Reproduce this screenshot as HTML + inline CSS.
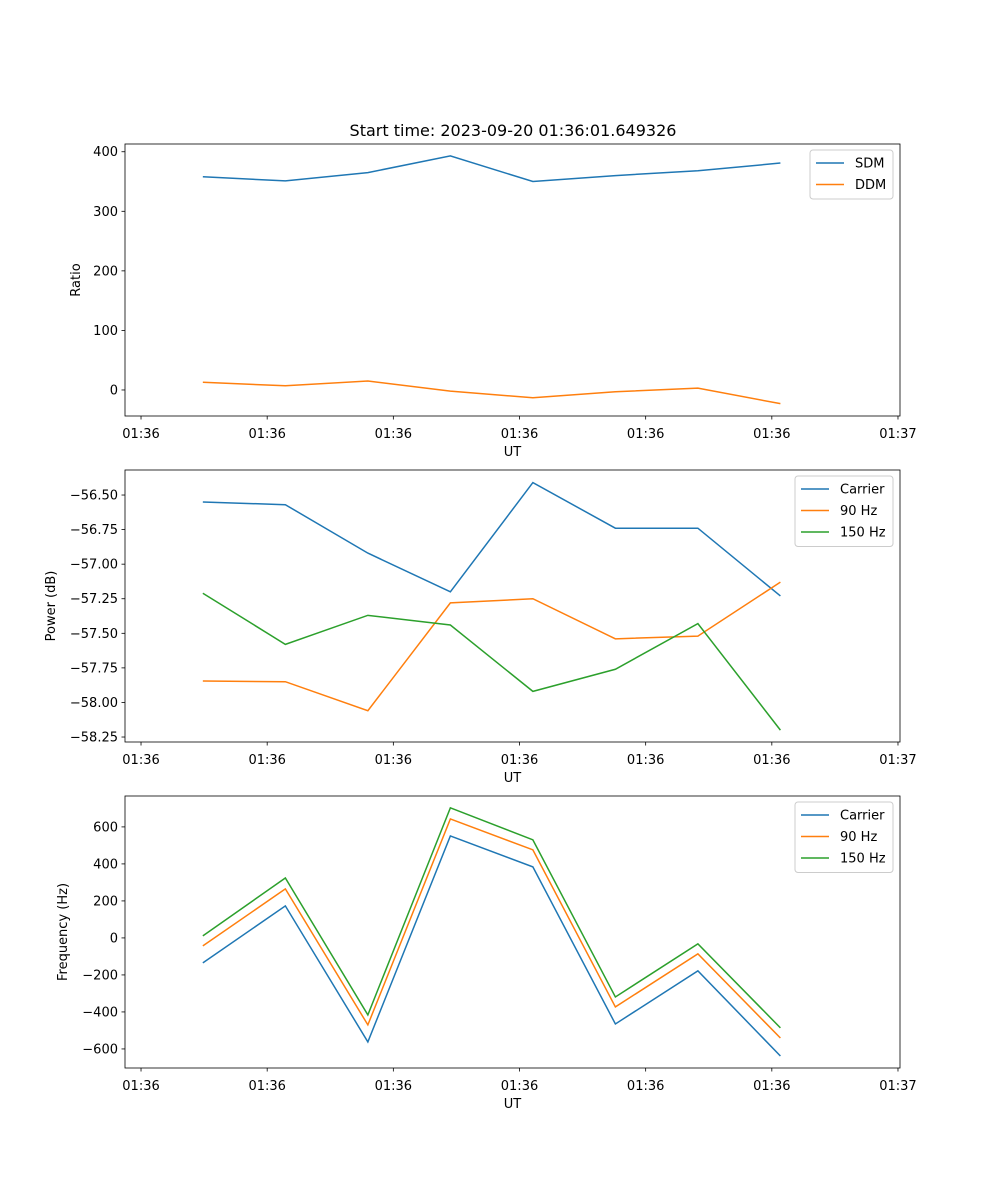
<!DOCTYPE html>
<html><head><meta charset="utf-8"><style>
body{margin:0;background:#fff;}
svg{display:block;font-family:"DejaVu Sans","Liberation Sans",sans-serif;}
</style></head><body>
<svg id="fig" width="1000" height="1200">
<text x="513" y="136" font-size="16" text-anchor="middle">Start time: 2023-09-20 01:36:01.649326</text>
</svg>
<script>
const xTickLabels = ["01:36","01:36","01:36","01:36","01:36","01:36","01:37"];
const xTickValues = [0,1,2,3,4,5,6];
const times = [0.49,1.144,1.798,2.452,3.106,3.76,4.414,5.068];
const sdm = [358,351,365,393,350,360,368,381];
const ddm = [13,7,15,-2,-13,-3,3,-23];
const pCarrier = [-56.55,-56.57,-56.92,-57.20,-56.41,-56.74,-56.74,-57.23];
const p90 = [-57.845,-57.85,-58.06,-57.28,-57.25,-57.54,-57.52,-57.13];
const p150 = [-57.21,-57.58,-57.37,-57.44,-57.92,-57.76,-57.43,-58.2];
const fCarrier = [-135,173,-562,551,384,-465,-178,-638];
const f90 = [-43,265,-470,643,476,-373,-86,-541];
const f150 = [11,324,-416,703,530,-319,-32,-486];
const yTicks1 = [0,100,200,300,400];
const yTicks2 = [-56.5,-56.75,-57,-57.25,-57.5,-57.75,-58,-58.25];
const yTicks3 = [-600,-400,-200,0,200,400,600];

const NS="http://www.w3.org/2000/svg";
const svg=document.getElementById('fig');
function mk(tag,attrs,parent){const e=document.createElementNS(NS,tag);for(const k in attrs)e.setAttribute(k,attrs[k]);(parent||svg).appendChild(e);return e;}
const L=125,R=900;
const xMin=-0.127,xMax=6.016;
function xs(v){return L+(v-xMin)/(xMax-xMin)*(R-L);}
const C=['#1f77b4','#ff7f0e','#2ca02c'];
function panel(top,bottom,yMin,yMax,ticks,fmt,ylabel,series,names,name,legW){
  const g=mk('g',{});
  
  
  const ys=v=>bottom-(v-yMin)/(yMax-yMin)*(bottom-top);
  series.forEach((s,i)=>{
    const p=mk('polyline',{points:s.map((v,j)=>xs(times[j])+','+ys(v)).join(' '),fill:'none',stroke:C[i],'stroke-width':1.5},g);
    
    
  });
  mk('rect',{x:L,y:top,width:R-L,height:bottom-top,fill:'none',stroke:'#000','stroke-width':0.8},g);
  xTickValues.forEach((v,i)=>{
    const x=xs(v);
    mk('line',{x1:x,x2:x,y1:bottom,y2:bottom+3.5,stroke:'#000','stroke-width':0.8},g);
    const t=mk('text',{x:x,y:bottom+22,'font-size':13,'text-anchor':'middle'},g);t.textContent=xTickLabels[i];
    
    
  });
  ticks.forEach(v=>{
    const y=ys(v);
    mk('line',{x1:L-3.5,x2:L,y1:y,y2:y,stroke:'#000','stroke-width':0.8},g);
    const t=mk('text',{x:L-7,y:y+4.5,'font-size':13,'text-anchor':'end'},g);t.textContent=fmt(v);
    
    
  });
  const xl=mk('text',{x:(L+R)/2,y:bottom+40,'font-size':13,'text-anchor':'middle'},g);xl.textContent='UT';
  
  
  const cy=(top+bottom)/2;
  const yl=mk('text',{x:0,y:0,'font-size':13,'text-anchor':'middle',transform:`translate(${ylabel[1]},${cy}) rotate(-90)`},g);yl.textContent=ylabel[0];
  
  
  const lg=mk('g',{},g);
  
  
  const lx=R-7-legW, ly=top+6, lh=names.length*21.5+6;
  mk('rect',{x:lx,y:ly,width:legW,height:lh,fill:'#fff',stroke:'#ccc','stroke-width':1,rx:3},lg);
  names.forEach((n,i)=>{
    const yy=ly+13+i*21.5;
    mk('line',{x1:lx+6,x2:lx+34,y1:yy,y2:yy,stroke:C[i],'stroke-width':1.5},lg);
    const t=mk('text',{x:lx+45,y:yy+4.5,'font-size':13},lg);t.textContent=n;
    
    
  });
}
panel(144,416,-43.7,413,yTicks1,v=>String(v).replace('-','\u2212'),['Ratio',80],[sdm,ddm],['SDM','DDM'],'ratio-panel',83);
panel(470,742,-58.286,-56.319,yTicks2,v=>v.toFixed(2).replace('-','\u2212'),['Power (dB)',55],[pCarrier,p90,p150],['Carrier','90 Hz','150 Hz'],'power-panel',98);
panel(796,1068,-703,767,yTicks3,v=>String(v).replace('-','\u2212'),['Frequency (Hz)',67],[fCarrier,f90,f150],['Carrier','90 Hz','150 Hz'],'frequency-panel',98);
</script>
</body></html>
